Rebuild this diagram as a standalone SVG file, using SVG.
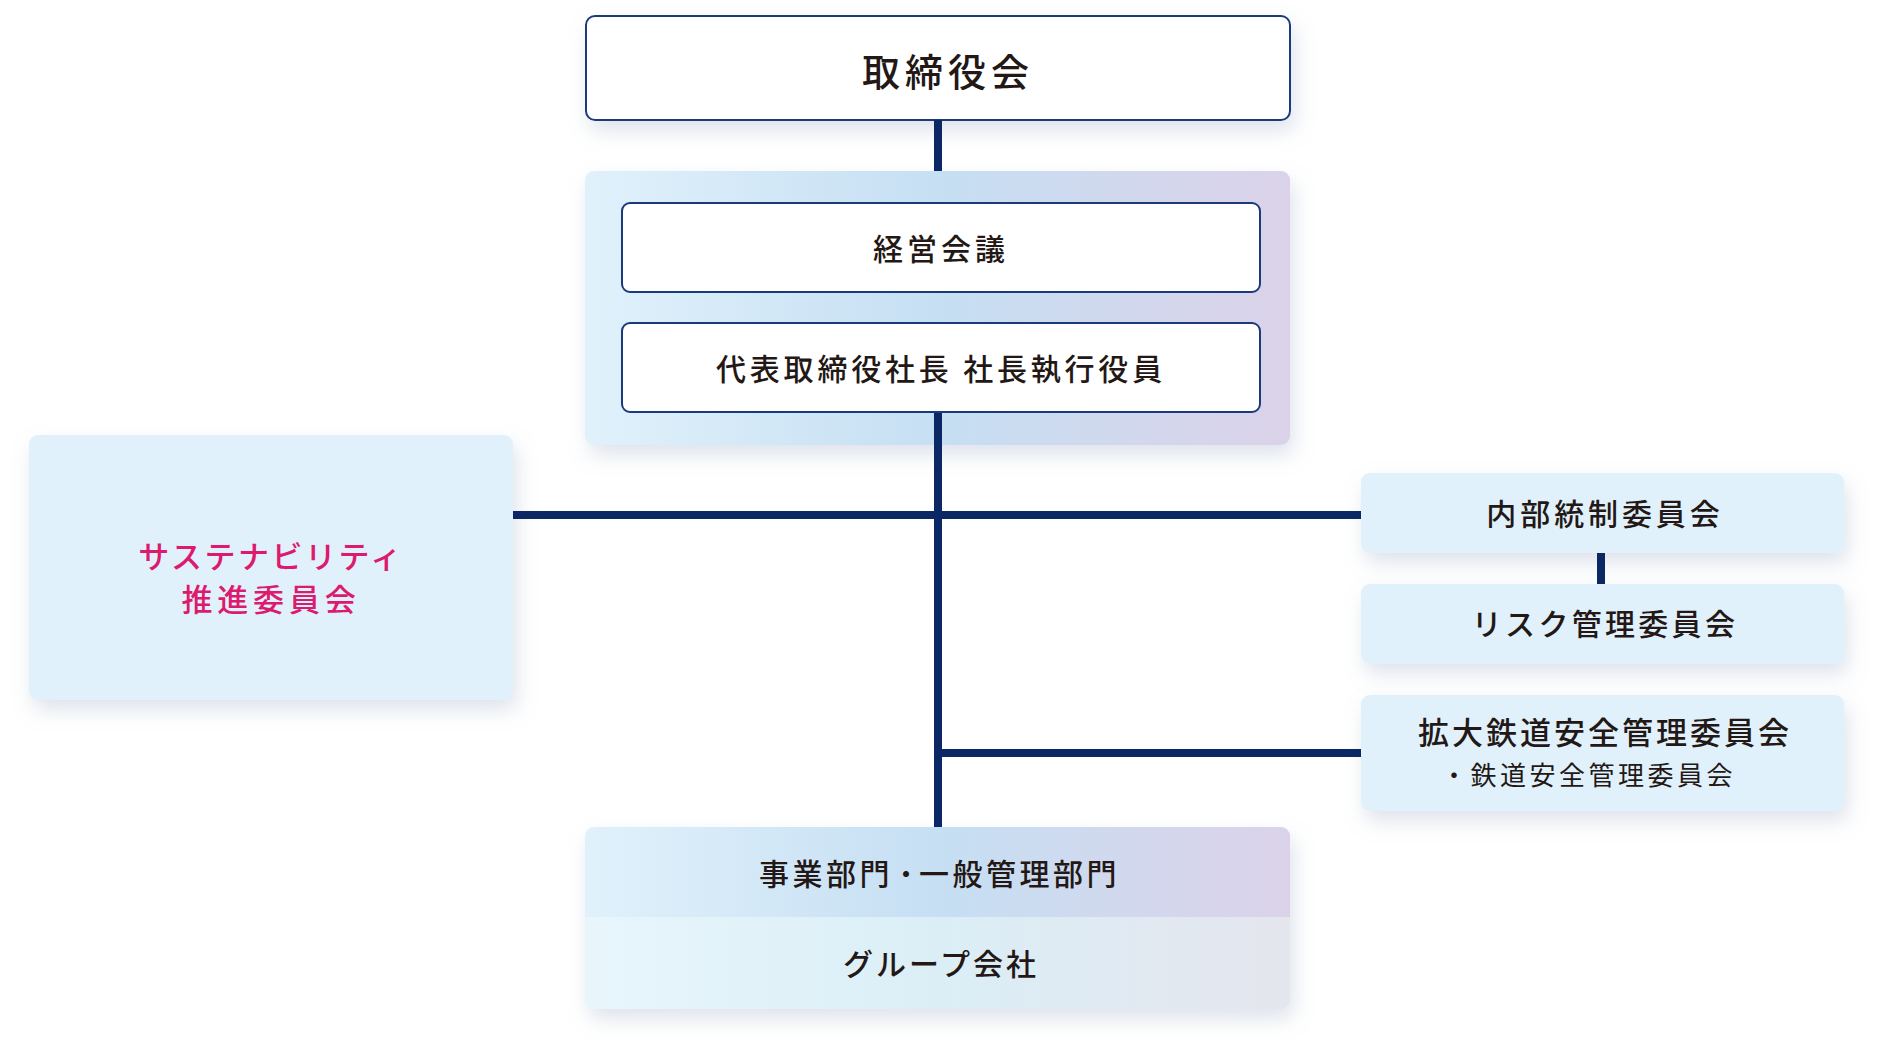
<svg xmlns="http://www.w3.org/2000/svg" width="1880" height="1050" viewBox="0 0 1880 1050">
<defs>
<linearGradient id="gExec" x1="0" y1="0" x2="1" y2="0">
<stop offset="0" stop-color="#e0f1fb"/>
<stop offset="0.5" stop-color="#c6dff3"/>
<stop offset="1" stop-color="#dbd2e9"/>
</linearGradient>
<linearGradient id="gGroup" x1="0" y1="0" x2="1" y2="0">
<stop offset="0" stop-color="#e8f6fc"/>
<stop offset="0.5" stop-color="#dbeef6"/>
<stop offset="1" stop-color="#e5e6ee"/>
</linearGradient>
<clipPath id="cBottom"><rect x="585" y="827" width="705" height="182" rx="9"/></clipPath>
<filter id="sh" x="-10%" y="-20%" width="125%" height="160%">
<feDropShadow dx="4" dy="10" stdDeviation="10" flood-color="#8a9bb8" flood-opacity="0.28"/>
</filter>
</defs>
<style>
text{font-family:"Noto Sans CJK JP","Noto Sans CJK SC",sans-serif;font-weight:500;fill:#231815;text-anchor:middle;dominant-baseline:central}
.wbox{fill:#ffffff;stroke:#1b3a7c;stroke-width:2}
.lbox{fill:#e1f1fb}
.conn{stroke:#0b2764;stroke-width:8;fill:none}
.t30{font-size:30px;letter-spacing:3px}
.pink{fill:#dc1a6e}
</style>
<rect width="1880" height="1050" fill="#ffffff"/>

<g id="board">
<rect class="wbox" x="586" y="16" width="704" height="104" rx="9" filter="url(#sh)"/>
<text x="948" y="69" style="font-size:38px;letter-spacing:5px">取締役会</text>
</g>

<g id="executive">
<rect x="585" y="171" width="705" height="274" rx="9" fill="url(#gExec)" filter="url(#sh)"/>
<g id="management-meeting">
<rect class="wbox" x="622" y="203" width="638" height="89" rx="8"/>
<text x="941" y="247" style="font-size:30px;letter-spacing:4px">経営会議</text>
</g>
<g id="president">
<rect class="wbox" x="622" y="323" width="638" height="89" rx="8"/>
<text x="941" y="367" style="font-size:30px;letter-spacing:3.8px">代表取締役社長 社長執行役員</text>
</g>
</g>

<g id="sustainability">
<rect class="lbox" x="29" y="435" width="484" height="265" rx="9" filter="url(#sh)"/>
<text class="pink" x="271" y="554" style="font-size:31px;letter-spacing:2.5px">サステナビリティ</text>
<text class="pink" x="271" y="597" style="font-size:31px;letter-spacing:4.8px">推進委員会</text>
</g>

<g id="internal-control">
<rect class="lbox" x="1361" y="473" width="483" height="80" rx="9" filter="url(#sh)"/>
<text x="1605" y="512" style="font-size:30px;letter-spacing:3.9px">内部統制委員会</text>
</g>

<g id="risk">
<rect class="lbox" x="1361" y="584" width="483" height="80" rx="9" filter="url(#sh)"/>
<text x="1605" y="622" style="font-size:30px;letter-spacing:3.3px">リスク管理委員会</text>
</g>

<g id="railway-safety">
<rect class="lbox" x="1361" y="695" width="483" height="116" rx="9" filter="url(#sh)"/>
<text x="1605" y="730" style="font-size:31px;letter-spacing:3px">拡大鉄道安全管理委員会</text>
<text x="1441" y="773" style="font-size:26px;letter-spacing:3.5px;font-weight:400;text-anchor:start">・鉄道安全管理委員会</text>
</g>

<g id="business">
<g filter="url(#sh)">
<g clip-path="url(#cBottom)">
<rect x="585" y="827" width="705" height="91" fill="url(#gExec)"/>
<rect x="585" y="917" width="705" height="92" fill="url(#gGroup)"/>
</g>
</g>
<text x="759" y="872" style="font-size:30px;letter-spacing:3.5px;text-anchor:start">事業部門<tspan style="font-size:26px;letter-spacing:0px">・</tspan><tspan>一般管理部門</tspan></text>
<text class="t30" x="941" y="962">グループ会社</text>
</g>

<g id="connectors">
<line class="conn" x1="938" y1="120" x2="938" y2="171"/>
<line class="conn" x1="938" y1="413" x2="938" y2="827"/>
<line class="conn" x1="513" y1="515" x2="1361" y2="515"/>
<line class="conn" x1="938" y1="753" x2="1361" y2="753"/>
<line class="conn" x1="1601" y1="553" x2="1601" y2="584"/>
</g>
</svg>
